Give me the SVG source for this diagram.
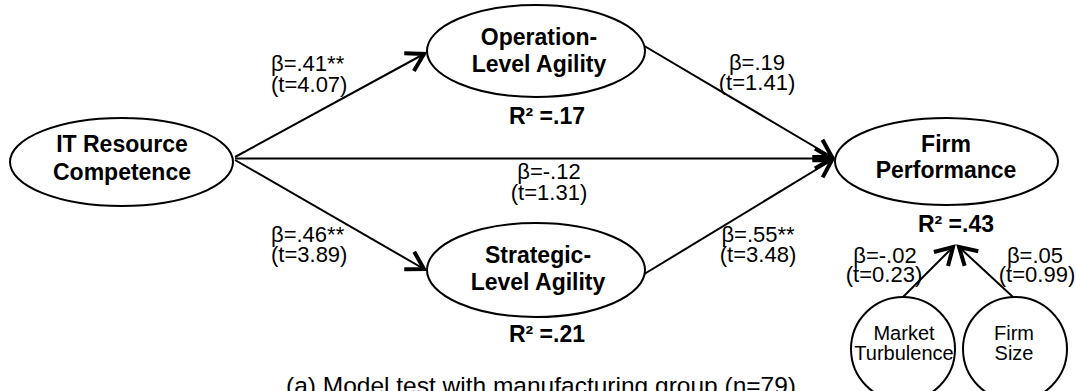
<svg xmlns="http://www.w3.org/2000/svg" width="1076" height="391" viewBox="0 0 1076 391">
  <style>
    text { font-family: "Liberation Sans", Arial, sans-serif; fill: #000; }
    .node { fill: #fff; stroke: #000; stroke-width: 2; }
    .name { font-size: 23px; font-weight: bold; text-anchor: middle; }
    .ctrl { font-size: 20px; text-anchor: middle; }
    .coef { font-size: 22px; }
    .mid { text-anchor: middle; }
    .rsq { font-size: 23px; font-weight: bold; text-anchor: middle; }
    .path { stroke: #000; stroke-width: 2; fill: none; marker-end: url(#head); }
    .caption { font-size: 24.5px; text-anchor: middle; }
  </style>
  <defs>
    <marker id="head" markerUnits="userSpaceOnUse" viewBox="-26 -15 30 30" markerWidth="30" markerHeight="30" refX="0" refY="0" orient="auto" overflow="visible">
      <path d="M-17,-10 L0,0 L-17,10" fill="none" stroke="#000" stroke-width="4" stroke-linejoin="miter"/>
    </marker>
  </defs>

  <rect width="1076" height="391" fill="#fff"/>

  <!-- structural paths -->
  <g id="connectors">
    <line class="path" x1="235" y1="157" x2="424" y2="54"/>
    <line class="path" x1="235" y1="160" x2="424" y2="269"/>
    <line class="path" x1="235" y1="158.5" x2="832" y2="158.5"/>
    <line class="path" x1="641" y1="44" x2="832" y2="157"/>
    <line class="path" x1="641" y1="276" x2="832" y2="160"/>
    <line class="path" x1="903" y1="297" x2="953" y2="247"/>
    <line class="path" x1="1013" y1="297" x2="959" y2="247"/>
  </g>

  <!-- path coefficients -->
  <g id="coefficients" class="coef">
    <text x="271" y="71">β=.41**</text>
    <text x="271" y="92">(t=4.07)</text>
    <text x="271" y="242">β=.46**</text>
    <text x="271" y="262">(t=3.89)</text>
    <text class="mid" x="549" y="179">β=-.12</text>
    <text class="mid" x="549" y="200">(t=1.31)</text>
    <text class="mid" x="757" y="70">β=.19</text>
    <text class="mid" x="757" y="90">(t=1.41)</text>
    <text class="mid" x="758" y="242">β=.55**</text>
    <text class="mid" x="758" y="262">(t=3.48)</text>
    <text class="mid" x="885" y="263">β=-.02</text>
    <text class="mid" x="884" y="282">(t=0.23)</text>
    <text class="mid" x="1035" y="263">β=.05</text>
    <text class="mid" x="1037" y="282">(t=0.99)</text>
  </g>

  <g id="it-resource-competence">
    <ellipse class="node" cx="121.5" cy="162" rx="111.5" ry="44"/>
    <text class="name" x="122" y="152">IT Resource</text>
    <text class="name" x="122" y="180">Competence</text>
  </g>

  <g id="operation-level-agility">
    <ellipse class="node" cx="536" cy="51" rx="109" ry="46"/>
    <text class="name" x="539" y="45">Operation-</text>
    <text class="name" x="539" y="72">Level Agility</text>
    <text class="rsq" x="547" y="124">R² =.17</text>
  </g>

  <g id="strategic-level-agility">
    <ellipse class="node" cx="536" cy="270" rx="109" ry="47"/>
    <text class="name" x="538" y="263">Strategic-</text>
    <text class="name" x="538" y="290">Level Agility</text>
    <text class="rsq" x="547" y="342">R² =.21</text>
  </g>

  <g id="firm-performance">
    <ellipse class="node" cx="946.5" cy="161.5" rx="111.5" ry="43.5"/>
    <text class="name" x="946" y="152">Firm</text>
    <text class="name" x="946" y="178">Performance</text>
    <text class="rsq" x="956" y="232">R² =.43</text>
  </g>

  <g id="market-turbulence">
    <circle class="node" cx="903" cy="349" r="52"/>
    <text class="ctrl" x="904" y="340">Market</text>
    <text class="ctrl" x="904" y="360">Turbulence</text>
  </g>

  <g id="firm-size">
    <circle class="node" cx="1015" cy="349" r="52"/>
    <text class="ctrl" x="1014" y="340">Firm</text>
    <text class="ctrl" x="1014" y="360">Size</text>
  </g>

  <text class="caption" x="541" y="394">(a) Model test with manufacturing group (n=79)</text>
</svg>
